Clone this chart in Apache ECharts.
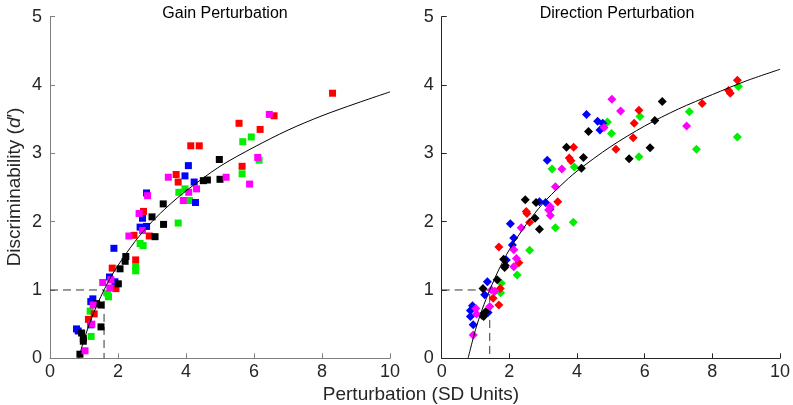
<!DOCTYPE html>
<html>
<head>
<meta charset="utf-8">
<script src="https://cdn.jsdelivr.net/npm/echarts@6/dist/echarts.min.js"></script>
<style>
html,body{margin:0;padding:0;background:#fff;}
#c{width:793px;height:405px;}
</style>
</head>
<body>
<div id="c"></div>
<script>
// ---- Data ----
const panelTitles = ['Gain Perturbation', 'Direction Perturbation'];
const xTicks = [0, 2, 4, 6, 8, 10];
const yTicks = [0, 1, 2, 3, 4, 5];
const xName = 'Perturbation (SD Units)';

// Gain perturbation (squares)
const gainRed = [[8.31,3.88],[6.59,3.55],[5.56,3.44],[6.18,3.35],[4.14,3.11],[4.39,3.11],[5.65,2.81],[3.71,2.69],[3.77,2.58],[2.75,2.15],[2.47,1.80],[2.92,1.79],[2.52,1.44],[1.83,1.32],[1.94,1.02],[1.30,0.65],[1.13,0.57]];
const gainGreen = [[5.92,3.24],[5.67,3.17],[6.15,2.90],[5.65,2.70],[3.79,2.43],[3.97,2.48],[4.10,2.31],[3.77,1.98],[2.65,1.68],[2.74,1.65],[2.52,1.34],[2.52,1.28],[1.72,0.90],[1.70,0.95],[1.18,0.69],[1.21,0.32]];
const gainBlue = [[4.07,2.82],[3.97,2.67],[4.24,2.58],[4.28,2.28],[2.84,2.42],[2.72,2.05],[2.65,1.92],[2.84,1.93],[1.88,1.61],[1.75,1.19],[1.91,1.12],[1.26,0.87],[1.20,0.83],[1.20,0.49],[0.78,0.43],[0.83,0.40]];
const gainMagenta = [[6.45,3.57],[6.11,2.94],[5.87,2.55],[5.18,2.65],[3.48,2.65],[4.31,2.48],[4.08,2.43],[3.92,2.31],[2.87,2.38],[2.62,2.12],[2.72,1.87],[2.32,1.79],[1.55,1.11],[1.79,1.15],[1.76,1.03],[1.27,0.78],[1.23,0.50],[1.03,0.11]];
const gainBlack = [[4.98,2.91],[5.00,2.62],[4.51,2.60],[4.63,2.61],[3.33,2.26],[3.00,2.07],[3.34,1.96],[3.09,1.78],[2.23,1.49],[2.21,1.42],[2.06,1.31],[2.01,1.09],[1.37,0.80],[1.50,0.78],[1.50,0.46],[0.93,0.37],[0.98,0.29],[0.98,0.25],[0.88,0.06]];
const gainFit = [[0.844,0],[1.0,0.27],[1.2,0.56],[1.4,0.80],[1.6,1.01],[1.8,1.20],[2.0,1.36],[2.5,1.71],[3.0,2.00],[3.5,2.24],[4.0,2.45],[5.0,2.81],[6.0,3.09],[7.0,3.34],[8.0,3.55],[9.0,3.73],[10.0,3.90]];
const gainThreshold = [[0,1],[1.59,1],[1.59,0]];

// Direction perturbation (diamonds)
const dirRed = [[8.74,4.07],[8.48,3.92],[8.53,3.88],[7.70,3.73],[5.83,3.63],[5.69,3.44],[5.66,3.23],[5.15,3.06],[3.90,3.09],[3.77,2.93],[3.82,2.89],[3.43,2.29],[2.50,2.15],[2.52,2.12],[2.60,1.99],[2.28,1.40],[1.69,1.63],[1.73,1.02],[1.52,0.88],[1.69,0.78]];
const dirGreen = [[8.77,3.98],[8.74,3.24],[7.32,3.61],[7.53,3.06],[5.86,3.54],[5.83,2.95],[4.90,3.46],[5.02,3.29],[3.92,2.80],[3.26,2.77],[3.89,1.99],[3.36,1.91],[2.60,1.58],[2.23,1.22],[1.74,0.96],[1.76,1.10]];
const dirBlue = [[4.28,3.57],[4.61,3.47],[4.68,3.34],[4.76,3.44],[3.12,2.90],[3.07,2.28],[2.89,2.29],[3.20,2.18],[2.03,1.97],[2.13,1.76],[2.09,1.66],[1.91,1.44],[1.35,1.12],[1.27,0.93],[1.37,0.67],[0.91,0.77],[0.85,0.70],[0.85,0.61],[0.93,0.49]];
const dirMagenta = [[5.03,3.79],[5.29,3.62],[7.24,3.40],[4.80,3.38],[3.55,2.77],[3.36,2.51],[3.21,2.22],[3.16,2.17],[3.21,2.09],[2.35,1.91],[2.13,1.59],[2.21,1.46],[2.13,1.34],[1.47,1.00],[1.57,0.98],[1.42,0.76],[1.01,0.73],[1.03,0.65],[0.93,0.34]];
const dirBlack = [[6.52,3.76],[6.30,3.48],[6.16,3.08],[5.54,2.92],[4.34,3.32],[4.19,2.94],[4.13,2.78],[3.69,3.09],[2.47,2.32],[2.79,2.28],[2.76,2.05],[2.89,1.89],[1.83,1.45],[1.88,1.36],[1.86,1.33],[1.64,1.15],[1.22,1.02],[1.30,0.68],[1.19,0.63],[1.24,0.61]];
const dirFit = [[0.78,0],[1.0,0.42],[1.2,0.72],[1.42,1.0],[1.7,1.31],[2.0,1.59],[2.5,1.96],[3.0,2.27],[3.5,2.52],[4.0,2.74],[5.0,3.10],[6.0,3.40],[7.0,3.65],[8.0,3.86],[9.0,4.06],[10.0,4.23]];
const dirThreshold = [[0,1],[1.42,1],[1.42,0]];

// ---- Chart ----
const FONT = 'Liberation Sans, Arial, Helvetica, sans-serif';
const chart = echarts.init(document.getElementById('c'), null, {renderer: 'canvas'});

const colors = {red:'#ff0000', green:'#00ee00', blue:'#0000ff', magenta:'#ff00ff', black:'#000000'};

function axisX(gi, lineColor) {
  return {
    type: 'value', gridIndex: gi, min: xTicks[0], max: xTicks[xTicks.length-1], interval: 2,
    axisLine: {show: true, onZero: false, lineStyle: {color: lineColor, width: 1}},
    axisTick: {show: true, inside: true, length: 5, lineStyle: {color: lineColor}},
    axisLabel: {color: '#262626', fontSize: 18, fontFamily: FONT, margin: 5},
    splitLine: {show: false}
  };
}
function axisY(gi, lineColor) {
  return {
    type: 'value', gridIndex: gi, min: yTicks[0], max: yTicks[yTicks.length-1], interval: 1,
    axisLine: {show: true, onZero: false, lineStyle: {color: lineColor, width: 1}},
    axisTick: {show: true, inside: true, length: 5, lineStyle: {color: lineColor}},
    axisLabel: {color: '#262626', fontSize: 18, fontFamily: FONT, margin: 8},
    splitLine: {show: false}
  };
}
function scatter(idx, data, color, symbol, size) {
  return {type: 'scatter', xAxisIndex: idx, yAxisIndex: idx, data: data, symbol: symbol,
    symbolSize: size, itemStyle: {color: color, opacity: 1}, silent: true, z: 3};
}
function lineS(idx, data, dashed, color) {
  return {type: 'line', xAxisIndex: idx, yAxisIndex: idx, data: data, showSymbol: false, symbol: 'none',
    smooth: dashed ? false : 0.3,
    lineStyle: {color: color, width: 1, type: dashed ? [8, 5] : 'solid'}, silent: true, z: dashed ? 2 : 4};
}

const option = {
  animation: false,
  backgroundColor: '#ffffff',
  grid: [
    {left: 50, top: 16.7, width: 340, height: 341.6},
    {left: 441.7, top: 16.7, width: 340, height: 341.6}
  ],
  title: [
    {text: panelTitles[0], left: 220, top: 1, textAlign: 'center',
     textStyle: {fontSize: 16, fontWeight: 'normal', color: '#000', fontFamily: FONT}},
    {text: panelTitles[1], left: 612, top: 1, textAlign: 'center',
     textStyle: {fontSize: 16, fontWeight: 'normal', color: '#000', fontFamily: FONT}},
    {text: xName, left: 416, top: 380, textAlign: 'center',
     textStyle: {fontSize: 19, fontWeight: 'normal', color: '#262626', fontFamily: FONT}}
  ],
  graphic: [{
    type: 'text', x: 15, y: 187, rotation: Math.PI / 2,
    style: {
      text: '{n|Discriminability (}{i|d}{n|′)}',
      rich: {
        n: {fontSize: 19, fontFamily: FONT, fill: '#262626'},
        i: {fontSize: 19, fontFamily: FONT, fontStyle: 'italic', fill: '#262626'}
      },
      align: 'center', verticalAlign: 'middle'
    }
  }],
  xAxis: [axisX(0, '#808080'), axisX(1, '#262626')],
  yAxis: [axisY(0, '#808080'), axisY(1, '#262626')],
  series: [
    lineS(0, gainThreshold, true, '#333333'),
    scatter(0, gainGreen, colors.green, 'rect', 7),
    scatter(0, gainBlue, colors.blue, 'rect', 7),
    scatter(0, gainRed, colors.red, 'rect', 7),
    scatter(0, gainBlack, colors.black, 'rect', 7),
    scatter(0, gainMagenta, colors.magenta, 'rect', 7),
    lineS(0, gainFit, false, '#000000'),
    lineS(1, dirThreshold, true, '#333333'),
    scatter(1, dirGreen, colors.green, 'diamond', 9),
    scatter(1, dirBlue, colors.blue, 'diamond', 9),
    scatter(1, dirRed, colors.red, 'diamond', 9),
    scatter(1, dirBlack, colors.black, 'diamond', 9),
    scatter(1, dirMagenta, colors.magenta, 'diamond', 9),
    lineS(1, dirFit, false, '#000000')
  ]
};
chart.setOption(option);
</script>
</body>
</html>
